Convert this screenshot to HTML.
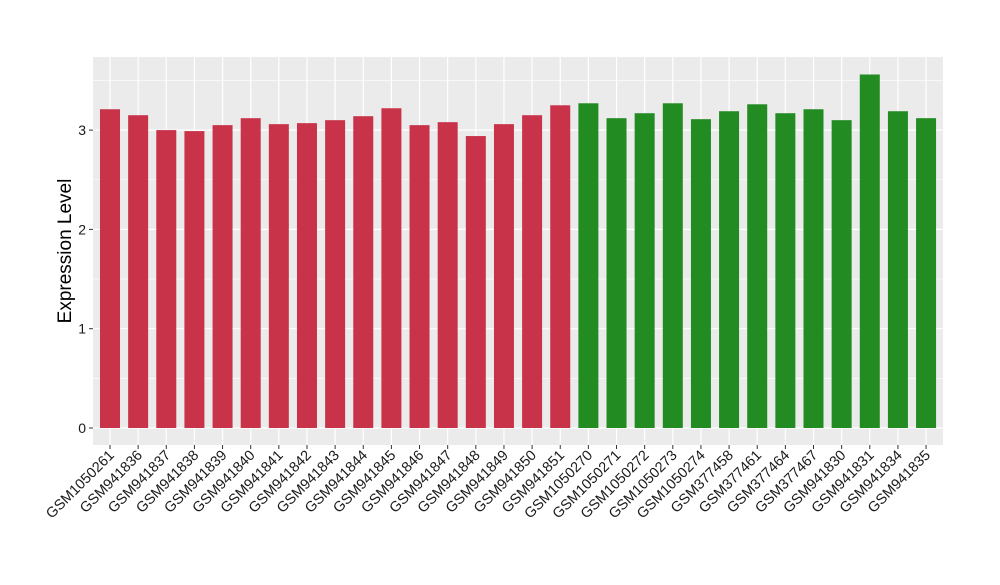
<!DOCTYPE html>
<html><head><meta charset="utf-8"><style>
body{margin:0;background:#fff;font-family:"Liberation Sans",sans-serif}
</style></head><body>
<svg id="chart" width="1000" height="580" xmlns="http://www.w3.org/2000/svg">
<rect x="93" y="57" width="850" height="388" fill="#EBEBEB"/>
<g id="grid"></g><g id="bars"></g><g id="axes"></g>
<text transform="translate(71,251) rotate(-90)" text-anchor="middle" font-size="19" fill="#000">Expression Level</text>
</svg>
<script>
const categories=["GSM1050261","GSM941836","GSM941837","GSM941838","GSM941839","GSM941840","GSM941841","GSM941842","GSM941843","GSM941844","GSM941845","GSM941846","GSM941847","GSM941848","GSM941849","GSM941850","GSM941851","GSM1050270","GSM1050271","GSM1050272","GSM1050273","GSM1050274","GSM377458","GSM377461","GSM377464","GSM377467","GSM941830","GSM941831","GSM941834","GSM941835"];
const values=[3.21,3.15,3.00,2.99,3.05,3.12,3.06,3.07,3.10,3.14,3.22,3.05,3.08,2.94,3.06,3.15,3.25,3.27,3.12,3.17,3.27,3.11,3.19,3.26,3.17,3.21,3.10,3.56,3.19,3.12];
const groups=["a","a","a","a","a","a","a","a","a","a","a","a","a","a","a","a","a","b","b","b","b","b","b","b","b","b","b","b","b","b"];
const yTicks=[0,1,2,3];
const colors={a:"#C8334A",b:"#228B22"};
const ns="http://www.w3.org/2000/svg";
const y=v=>428-v*99.3;
const x=i=>110+i*28.14;
const bw=20;
const grid=document.getElementById('grid'),bars=document.getElementById('bars'),axes=document.getElementById('axes');
function mk(tag,attrs,parent){const e=document.createElementNS(ns,tag);for(const k in attrs)e.setAttribute(k,attrs[k]);parent.appendChild(e);return e;}
yTicks.forEach(t=>{
  const g=mk('line',{x1:93,x2:943,y1:y(t),y2:y(t),stroke:"#fff","stroke-width":1.2},grid);
  
  
  if(t<3){const m=mk('line',{x1:93,x2:943,y1:y(t+0.5),y2:y(t+0.5),stroke:"#fff","stroke-width":0.6},grid);
  
  }
  const tk=mk('line',{x1:89,x2:93,y1:y(t),y2:y(t),stroke:"#333"},axes);
  
  
  const lb=mk('text',{x:86,y:y(t)+5,"text-anchor":"end","font-size":14,fill:"#1a1a1a"},axes);
  lb.textContent=t;
  
  
});
{const m=mk('line',{x1:93,x2:943,y1:y(3.5),y2:y(3.5),stroke:"#fff","stroke-width":0.6},grid);

}
categories.forEach((c,i)=>{
  const gl=mk('line',{x1:x(i),x2:x(i),y1:57,y2:445,stroke:"#fff","stroke-width":1.2},grid);
  
  
  const r=mk('rect',{x:x(i)-bw/2,y:y(values[i]),width:bw,height:y(0)-y(values[i]),fill:colors[groups[i]]},bars);
  
  
  const tk=mk('line',{x1:x(i),x2:x(i),y1:445,y2:449,stroke:"#333"},axes);
  
  
  const lb=mk('text',{transform:`translate(${x(i)+5},${456}) rotate(-45)`,"text-anchor":"end","font-size":14.5,fill:"#1a1a1a"},axes);
  lb.textContent=c;
  
  
});
</script>
</body></html>
